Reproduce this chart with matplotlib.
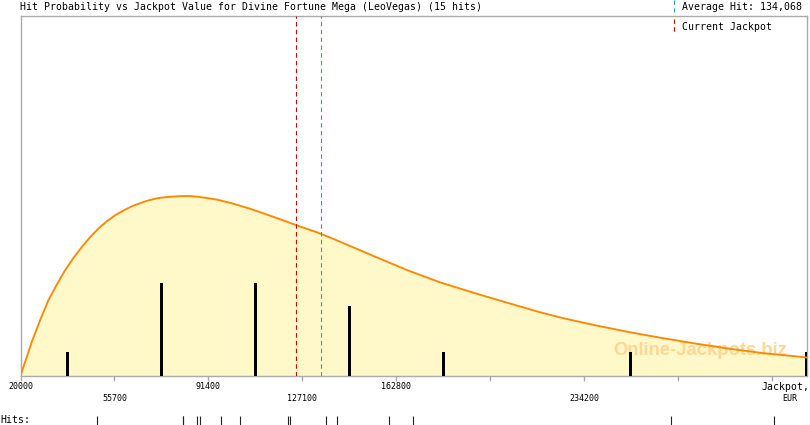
import matplotlib
matplotlib.use("Agg")
import matplotlib.pyplot as plt
from matplotlib.lines import Line2D

# ---------------- data ----------------
title = "Hit Probability vs Jackpot Value for Divine Fortune Mega (LeoVegas) (15 hits)"
average_hit = 134068
current_jackpot = 124600

tick_values = [20000, 55700, 91400, 127100, 162800, 198500, 234200, 269900, 305600]
tick_labels = ["20000", "55700", "91400", "127100", "162800", "", "234200", "", ""]
tick_rows = [0, 1, 0, 1, 0, 0, 1, 0, 0]

bar_x = [37850, 73550, 109250, 144950, 180650, 251750, 318600]
bar_counts = [1, 4, 4, 3, 1, 1, 1]

hits = [48990, 81820, 81820, 87140, 88390, 96260, 103480, 121570, 122480,
        136000, 140330, 159940, 169060, 267090, 306230]

# fitted probability curve (in "hits" units)
curve_x = [20000, 21710, 24256, 27410, 30564, 33756, 36910, 40064, 43256, 46410,
           49564, 52756, 55910, 59064, 62256, 65410, 68564, 71756, 74910, 78064,
           81256, 84410, 87564, 94556, 100864, 107210, 113556, 119864, 126210,
           132556, 138864, 154064, 166756, 179410, 192064, 204756, 217410,
           226264, 238956, 251610, 264264, 276956,
           289610, 302264, 317464, 319000]
curve_y = [0.0, 0.57, 1.45, 2.39, 3.26, 3.94, 4.57, 5.10, 5.58, 6.01,
           6.38, 6.70, 6.96, 7.17, 7.35, 7.49, 7.61, 7.70, 7.75, 7.78,
           7.80, 7.80, 7.77, 7.65, 7.47, 7.25, 7.00, 6.74, 6.48,
           6.23, 5.94, 5.20, 4.59, 4.05, 3.60, 3.17, 2.75,
           2.49, 2.17, 1.88, 1.62, 1.38,
           1.16, 0.97, 0.80, 0.78]

x_min, x_max = 20000, 319000
y_max = 15.65

# ---------------- figure ----------------
W, H = 810, 425
fig = plt.figure(figsize=(W / 100, H / 100), dpi=100)
mono = "DejaVu Sans Mono"

L, R, T, B = 20.5, 807.3, 15.5, 375.5
ax = fig.add_axes([L / W, (H - B) / H, (R - L) / W, (B - T) / H])
ax.set_xlim(x_min, x_max)
ax.set_ylim(0, y_max)

ax.fill_between(curve_x, curve_y, 0, color="#FFF8C8", lw=0, zorder=1)
ax.plot(curve_x, curve_y, color="#FF8800", lw=1.35, zorder=4,
        solid_joinstyle="round")
ax.bar(bar_x, bar_counts, width=1140, color="black", zorder=3)

ax.axvline(current_jackpot, color="#CC0000", lw=0.8, linestyle=(0, (4, 3)), zorder=5)
ax.axvline(average_hit, color="#3399CC", lw=0.8, linestyle=(0, (4, 3)), zorder=5)

ax.text(0.8636, 0.057, "Online-Jackpots.biz", transform=ax.transAxes,
        ha="center", va="baseline", fontsize=13.3, fontweight="bold",
        family="Liberation Sans", color="#FFD696", zorder=2)

for s in ax.spines.values():
    s.set_color("#AAAAAA")
    s.set_linewidth(1.0)
ax.set_yticks([])
ax.set_xticks(tick_values)
ax.set_xticklabels([])
ax.tick_params(axis="x", direction="out", length=3.6, width=1.0, color="#AAAAAA")

for v, lab, row in zip(tick_values, tick_labels, tick_rows):
    if lab:
        ax.annotate(lab, xy=(v, 0), xycoords=("data", "axes fraction"),
                    xytext=(0, -8.0 - 8.6 * row), textcoords="offset points",
                    ha="center", va="center", fontsize=6, family=mono)

ax.annotate("Jackpot,", xy=(1, 0), xycoords="axes fraction",
            xytext=(1.5, -8.0), textcoords="offset points",
            ha="right", va="center", fontsize=7.1, family=mono)
ax.annotate("EUR", xy=(1, 0), xycoords="axes fraction",
            xytext=(-12.5, -16.6), textcoords="offset points",
            ha="center", va="center", fontsize=6, family=mono)

# title and legend
fig.text(20 / W, 1 - 7.5 / H, title, ha="left", va="center", fontsize=7.1, family=mono)
fig.text(682.5 / W, 1 - 7.5 / H, "Average Hit: 134,068", ha="left", va="center",
         fontsize=7.1, family=mono)
fig.text(682.5 / W, 1 - 27 / H, "Current Jackpot", ha="left", va="center",
         fontsize=7.1, family=mono)
fig.add_artist(Line2D([673.7 / W, 673.7 / W], [1 - 0 / H, 1 - 12 / H],
                      color="#3399CC", lw=0.8, linestyle=(0, (4, 3)),
                      transform=fig.transFigure))
fig.add_artist(Line2D([673.7 / W, 673.7 / W], [1 - 19 / H, 1 - 33 / H],
                      color="#CC0000", lw=0.8, linestyle=(0, (4, 3)),
                      transform=fig.transFigure))

# hits row
ax2 = fig.add_axes([L / W, 0, (R - L) / W, 9.5 / H])
ax2.set_xlim(x_min, x_max)
ax2.set_ylim(0, 1)
ax2.vlines(hits, 0, 1, color="#222222", lw=0.8)
ax2.axis("off")
fig.text(0, 1 - 420 / H, "Hits:", ha="left", va="center", fontsize=7.1, family=mono)

fig.savefig("out.png", dpi=100)
